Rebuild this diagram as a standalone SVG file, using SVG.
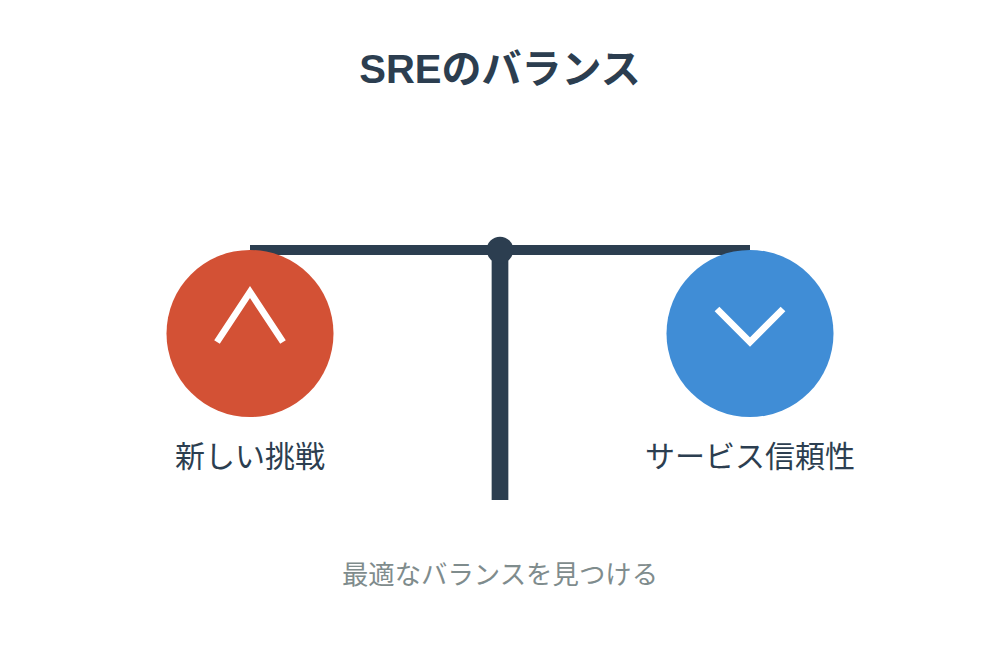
<svg xmlns="http://www.w3.org/2000/svg" width="1000" height="667" viewBox="0 0 1000 667">
<style>
text{font-family:"Liberation Sans","Noto Sans CJK JP",sans-serif;text-anchor:middle}
.lbl{font-size:30px;fill:#2c3e50}
.arrow{fill:none;stroke:#fff;stroke-width:6.7}
</style>
<rect width="1000" height="667" fill="#fff"/>
<g id="title"><text x="500" y="83" font-size="40" font-weight="700" fill="#2c3e50">SREのバランス</text></g>
<g id="connectors">
<line x1="500" y1="250" x2="500" y2="500" stroke="#2c3e50" stroke-width="16.7"/>
<line x1="250" y1="250" x2="750" y2="250" stroke="#2c3e50" stroke-width="10"/>
<circle cx="500" cy="250" r="13.3" fill="#2c3e50"/>
</g>
<g id="challenge">
<circle cx="250" cy="333.500" r="83.500" fill="#d35135"/>
<polyline class="arrow" points="217,342 250,292 283,342"/>
<text class="lbl" x="250" y="467">新しい挑戦</text>
</g>
<g id="reliability">
<circle cx="750" cy="333.500" r="83.500" fill="#408dd6"/>
<polyline class="arrow" points="717,309 750,342 783,309"/>
<text class="lbl" x="750" y="467">サービス信頼性</text>
</g>
<g id="caption"><text x="500" y="584" font-size="26.400" fill="#7f8c8d">最適なバランスを見つける</text></g>
</svg>
